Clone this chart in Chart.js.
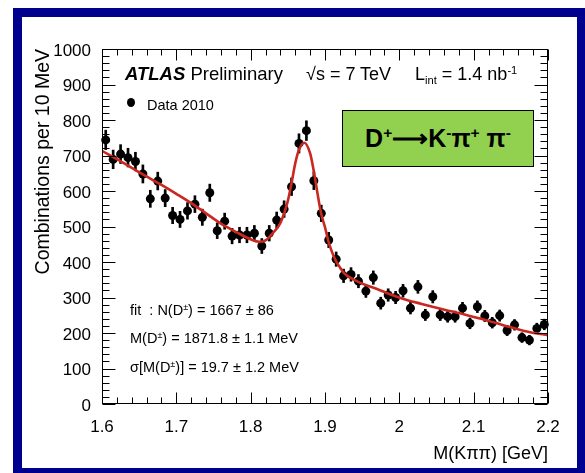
<!DOCTYPE html>
<html>
<head>
<meta charset="utf-8">
<title>D+ -> K pi pi mass</title>
<script src="https://cdn.jsdelivr.net/npm/chart.js@4.4.0/dist/chart.umd.min.js"></script>
<style>
  html, body { margin: 0; padding: 0; background: #fff; }
  #wrap { position: relative; width: 585px; height: 473px; overflow: hidden;
          font-family: "Liberation Sans", Arial, Helvetica, sans-serif; color: #000; }
  #chart { position: absolute; left: 0; top: 0; }
  #frame { position: absolute; left: 13px; top: 8px; width: 572px; height: 465px;
           box-sizing: border-box; border: 9px solid #00008e; border-right-width: 8px; border-bottom-width: 5px; }
  .txt { position: absolute; white-space: nowrap; line-height: 1; }
  .sup { font-size: 62%; position: relative; top: -0.55em; }
  .sub { font-size: 62%; position: relative; top: 0.35em; }
  #decay { position: absolute; left: 342px; top: 110px; width: 192px; height: 57px; box-sizing: border-box;
           border: 1.5px solid #000; background: #92d050; display: flex; align-items: center; justify-content: center;
           font-weight: bold; font-size: 25px; }
  #legdot { position: absolute; left: 127px; top: 98px; width: 8px; height: 9px; border-radius: 50%; background: #000; }
</style>
</head>
<body>
<div id="wrap">
  <canvas id="chart" width="585" height="473"></canvas>

  <div class="txt" style="left:125px; top:65px; font-size:18.5px;"><b><i>ATLAS</i></b> Preliminary</div>
  <div class="txt" style="left:306px; top:65px; font-size:18px;">&radic;s = 7 TeV</div>
  <div class="txt" style="left:415px; top:65px; font-size:18px;">L<span class="sub">int</span> = 1.4 nb<span class="sup">-1</span></div>

  <div id="legdot"></div>
  <div class="txt" style="left:147px; top:98px; font-size:14.5px;">Data 2010</div>

  <div id="decay"><span>D<span class="sup">+</span>&#10230;K<span class="sup">-</span>&pi;<span class="sup">+</span> &pi;<span class="sup">-</span></span></div>

  <div class="txt" style="left:130px; top:303px; font-size:14.5px;">fit &nbsp;: N(D<span class="sup">&plusmn;</span>) = 1667 &plusmn; 86</div>
  <div class="txt" style="left:130px; top:331px; font-size:14.5px;">M(D<span class="sup">&plusmn;</span>) = 1871.8 &plusmn; 1.1 MeV</div>
  <div class="txt" style="left:130px; top:360px; font-size:14.5px;">&sigma;[M(D<span class="sup">&plusmn;</span>)] = 19.7 &plusmn; 1.2 MeV</div>

  <div id="frame"></div>
</div>

<script>
// bin centres of M(K pi pi) in GeV, 10 MeV bins
const binCenters = [
  1.605, 1.615, 1.625, 1.635, 1.645, 1.655, 1.665, 1.675, 1.685, 1.695,
  1.705, 1.715, 1.725, 1.735, 1.745, 1.755, 1.765, 1.775, 1.785, 1.795,
  1.805, 1.815, 1.825, 1.835, 1.845, 1.855, 1.865, 1.875, 1.885, 1.895,
  1.905, 1.915, 1.925, 1.935, 1.945, 1.955, 1.965, 1.975, 1.985, 1.995,
  2.005, 2.015, 2.025, 2.035, 2.045, 2.055, 2.065, 2.075, 2.085, 2.095,
  2.105, 2.115, 2.125, 2.135, 2.145, 2.155, 2.165, 2.175, 2.185, 2.195
];

// combinations per bin (Data 2010)
const counts = [
  744, 689, 704, 694, 683, 648, 578, 628, 580, 531,
  520, 544, 563, 526, 595, 488, 515, 473, 476, 476,
  481, 445, 481, 518, 549, 612, 734, 770, 629, 537,
  462, 408, 361, 365, 346, 318, 356, 284, 307, 300,
  319, 270, 330, 251, 302, 251, 246, 246, 270, 227,
  274, 248, 229, 249, 207, 223, 187, 180, 213, 224
];

// fit curve
const fitMass = [
  1.600, 1.620, 1.640, 1.660, 1.680, 1.700, 1.720, 1.740, 1.760, 1.780,
  1.800, 1.812, 1.820, 1.830, 1.840, 1.850, 1.855, 1.860, 1.865, 1.872,
  1.880, 1.885, 1.890, 1.895, 1.900, 1.905, 1.910, 1.915, 1.920, 1.925,
  1.930, 1.940, 1.950, 1.970, 1.990, 2.010, 2.030, 2.050, 2.070, 2.090,
  2.110, 2.130, 2.150, 2.170, 2.190, 2.200
];
const fitValues = [
  713, 690, 665, 641, 617, 592, 566, 537, 508, 485,
  464, 457, 461, 482, 510, 572, 622, 678, 716, 736,
  706, 655, 592, 535, 498, 455, 425, 402, 385, 370,
  361, 349, 339, 324, 307, 293, 282, 271, 261, 251,
  240, 228, 216, 205, 197, 194
];

const xMin = 1.6, xMax = 2.2, xMajor = 0.1, xMinor = 0.02;
const yMin = 0, yMax = 1000, yMajor = 100, yMinor = 20;

// ROOT style frame with ticks on the inside of all four sides
const frameTicks = {
  id: 'frameTicks',
  afterDatasetsDraw(chart) {
    const { ctx, chartArea: a, scales: { x, y } } = chart;
    ctx.save();
    ctx.strokeStyle = '#000';
    ctx.lineWidth = 1;
    const L = Math.round(a.left) + 0.5, R = Math.round(a.right) - 0.5;
    const T = Math.round(a.top) + 0.5, B = Math.round(a.bottom) - 0.5;
    ctx.strokeRect(L, T, R - L, B - T);
    ctx.beginPath();
    const nx = Math.round((xMax - xMin) / xMinor);
    for (let i = 0; i <= nx; i++) {
      const px = Math.round(x.getPixelForValue(xMin + i * xMinor)) + 0.5;
      const len = i % 5 === 0 ? 11 : 6;
      ctx.moveTo(px, B); ctx.lineTo(px, B - len);
      ctx.moveTo(px, T); ctx.lineTo(px, T + len);
    }
    const ny = Math.round((yMax - yMin) / yMinor);
    for (let i = 0; i <= ny; i++) {
      const py = Math.round(y.getPixelForValue(yMin + i * yMinor)) + 0.5;
      const len = i % 5 === 0 ? 13 : 7;
      ctx.moveTo(L, py); ctx.lineTo(L + len, py);
      ctx.moveTo(R, py); ctx.lineTo(R - len, py);
    }
    ctx.stroke();
    ctx.restore();
  }
};

const tickFont = { family: '"Liberation Sans", Arial, sans-serif', size: 17 };

const ctx = document.getElementById('chart').getContext('2d');
new Chart(ctx, {
  type: 'scatter',
  data: {
    datasets: [{
      type: 'line',
      label: 'fit',
      data: fitMass.map((m, i) => ({ x: m, y: fitValues[i] })),
      borderColor: '#c8281f',
      borderWidth: 2.6,
      pointRadius: 0,
      cubicInterpolationMode: 'monotone',
      fill: false,
      order: 0
    }, {
      label: 'Data 2010',
      data: binCenters.map((m, i) => ({ x: m, y: counts[i] })),
      backgroundColor: '#000',
      borderWidth: 0,
      pointRadius: 4.5,
      clip: false,
      order: 1
    }, {
      type: 'bar',
      label: 'errors',
      data: binCenters.map((m, i) => ({ x: m, y: [counts[i] - Math.sqrt(counts[i]), counts[i] + Math.sqrt(counts[i])] })),
      backgroundColor: '#000',
      barThickness: 2,
      grouped: false,
      order: 2
    }]
  },
  options: {
    responsive: false,
    animation: false,
    devicePixelRatio: 1,
    layout: { padding: { top: 49, right: 37, left: 0, bottom: 0 } },
    plugins: { legend: { display: false }, tooltip: { enabled: false } },
    scales: {
      x: {
        type: 'linear',
        min: xMin,
        max: xMax,
        offset: false,
        grid: { display: false, drawTicks: false, offset: false },
        border: { display: false },
        ticks: {
          stepSize: xMajor,
          color: '#000',
          font: tickFont,
          padding: 13,
          maxRotation: 0,
          callback: v => String(Math.round(v * 10) / 10)
        },
        title: {
          display: true,
          text: 'M(K\u03c0\u03c0) [GeV]',
          align: 'end',
          color: '#000',
          font: { family: '"Liberation Sans", Arial, sans-serif', size: 18 },
          padding: { top: 0, bottom: 8 }
        },
        afterFit(s) { s.height = 69; }
      },
      y: {
        min: yMin,
        max: yMax,
        grid: { display: false, drawTicks: false },
        border: { display: false },
        ticks: {
          stepSize: yMajor,
          color: '#000',
          font: tickFont,
          padding: 11,
          labelOffset: 2,
          callback: v => String(v)
        },
        title: {
          display: true,
          text: 'Combinations per 10 MeV',
          align: 'end',
          color: '#000',
          font: { family: '"Liberation Sans", Arial, sans-serif', size: 19.5 },
          padding: { top: 32, bottom: 0 }
        },
        afterFit(s) { s.width = 102; }
      }
    }
  },
  plugins: [frameTicks]
});
</script>
</body>
</html>
